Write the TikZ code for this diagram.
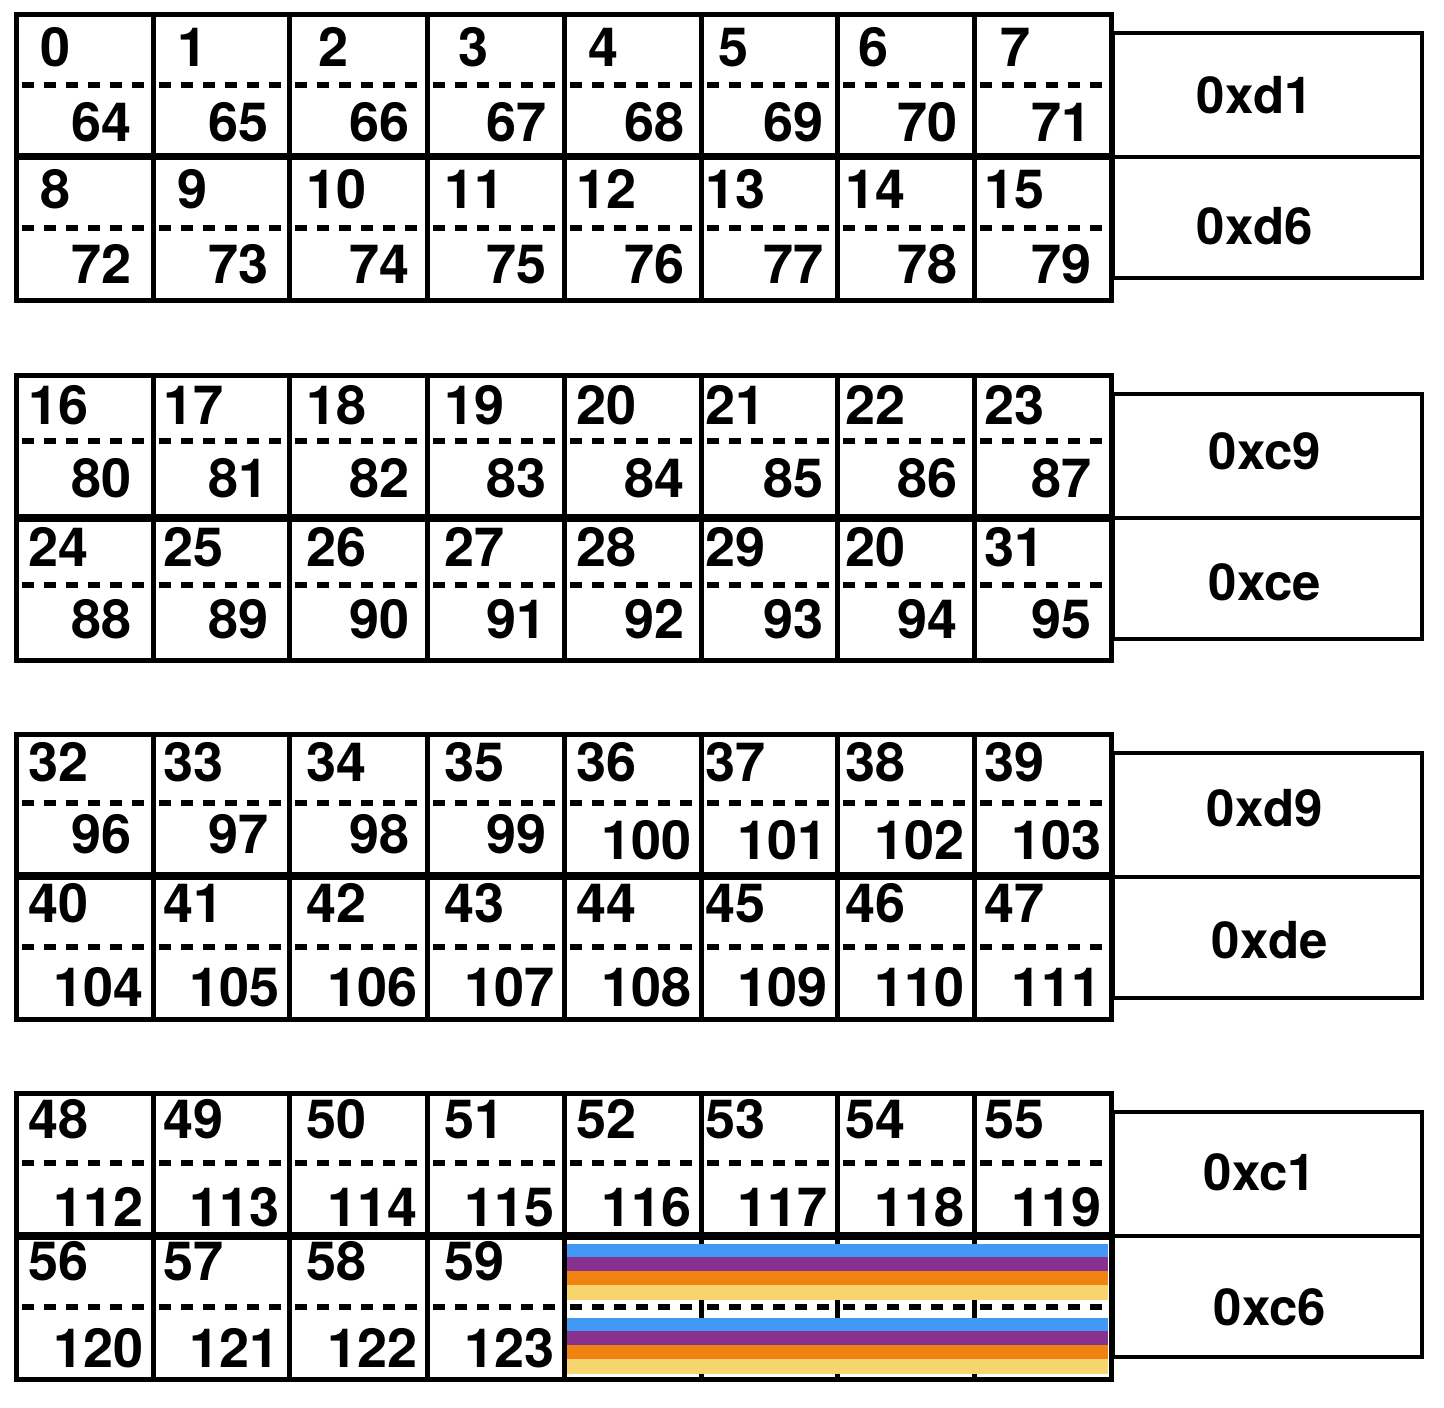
\documentclass[tikz,border=0pt]{standalone}
\usepackage{fontspec}
\setmainfont{TeX Gyre Heros}
\definecolor{sblue}{RGB}{66,153,245}
\definecolor{spurple}{RGB}{136,50,144}
\definecolor{sorange}{RGB}{239,130,16}
\definecolor{syellow}{RGB}{246,213,110}
\begin{document}
\begin{tikzpicture}[x=1pt,y=-1pt,
  cellline/.style={line width=5pt, line join=miter},
  hexbox/.style={line width=4.5pt},
  dashline/.style={line width=5.5pt, dash pattern=on 12pt off 10pt},
  numlabel/.style={inner sep=0pt, font=\fontsize{54}{60}\selectfont\bfseries},
  hexlabel/.style={inner sep=0pt, anchor=center, font=\fontsize{51}{58}\selectfont\bfseries}]
\useasboundingbox (0,0) rectangle (1444,1408);
\def\xs{{16,153,289,427,564,701,837,974,1111}}
\def\rt{{14,157,375,519,734,877,1093,1237}}
\def\rb{{155,300,516,660,874,1019,1234,1379}}
\def\dy{{85,228,441,585,803,947,1163,1307}}
\def\tb{{66,208,424,566,781,922,1138,1280}}
\def\bb{{141,283,497,638,853,1006,1226,1367}}
\def\toff{{12,10,17,17,12,4,8,10}}
\def\tsoff{{24,24,29,31,24,17,21,26}}
\def\boff{{21,20,17,17,16,13,16,19}}
% cells
\foreach \r in {0,...,7}{
  \foreach \c in {0,...,7}{
    \pgfmathsetmacro\xa{\xs[\c]}
    \pgfmathsetmacro\xb{\xs[\c+1]}
    \pgfmathsetmacro\ya{\rt[\r]}
    \pgfmathsetmacro\yb{\rb[\r]}
    \pgfmathsetmacro\yd{\dy[\r]}
    \draw[cellline] (\xa,\ya) rectangle (\xb,\yb);
    \draw[dashline] (\xa+6,\yd) -- (\xb-3,\yd);
  }
}
% labels
\foreach \r in {0,...,7}{
  \foreach \c in {0,...,7}{
    \pgfmathtruncatemacro\hide{(\r==7 && \c>3) ? 1 : 0}
    \ifnum\hide=0
      \pgfmathtruncatemacro\n{8*\r+\c}
      \pgfmathtruncatemacro\m{64+8*\r+\c}
      \ifnum\r=3 \ifnum\c=6 \def\n{20}\fi\fi
      \pgfmathsetmacro\xa{\xs[\c]}
      \pgfmathsetmacro\xb{\xs[\c+1]}
      \pgfmathsetmacro\ty{\tb[\r]}
      \pgfmathsetmacro\by{\bb[\r]}
      \pgfmathsetmacro\to{\n<10 ? \tsoff[\c] : \toff[\c]}
      \pgfmathsetmacro\bo{\m<100 ? \boff[\c] : 9}
      \pgfmathsetmacro\bd{(\m>99 && \r==4) ? 6 : 0}
      \node[numlabel, anchor=base west] (t\r\c) at (\xa+\to,\ty) {\n};
      \node[numlabel, anchor=base east] (b\r\c) at (\xb-\bo,\by+\bd) {\m};
    \fi
  }
}
% stripes
\foreach \s in {1244,1318}{
  \fill[sblue] (567,\s) rectangle (1108,\s+13);
  \fill[spurple] (567,\s+13) rectangle (1108,\s+27);
  \fill[sorange] (567,\s+27) rectangle (1108,\s+41);
  \fill[syellow] (567,\s+41) rectangle (1108,\s+56);
}
% hex boxes
\foreach \k/\B in {0/14,1/375,2/734,3/1093}{
  \draw[hexbox] (1113,\B+19) rectangle (1422,\B+143);
  \draw[hexbox] (1113,\B+143) rectangle (1422,\B+264);
}
\node[hexlabel] (h1) at (1255,95) {0xd1};
\node[hexlabel] (h2) at (1255,226) {0xd6};
\node[hexlabel] (h3) at (1265,451) {0xc9};
\node[hexlabel] (h4) at (1265,582) {0xce};
\node[hexlabel] (h5) at (1265,808) {0xd9};
\node[hexlabel] (h6) at (1270,940) {0xde};
\node[hexlabel] (h7) at (1260,1172) {0xc1};
\node[hexlabel] (h8) at (1270,1307) {0xc6};
\end{tikzpicture}
\end{document}
